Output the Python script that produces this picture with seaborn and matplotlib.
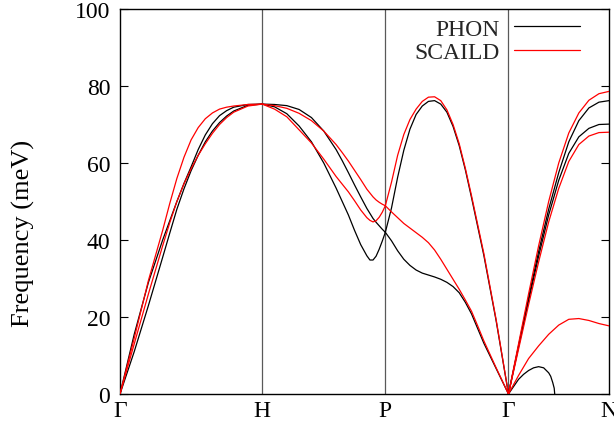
import numpy as np
import pandas as pd
import matplotlib
matplotlib.use("Agg")
import matplotlib.pyplot as plt
import seaborn as sns
from matplotlib.lines import Line2D

# ---------------- data ----------------
kpoint_labels = ["Γ", "H", "P", "Γ", "N"]
kpoint_pos = [0.0, 1.0, 1.866, 2.732, 3.439]   # path distance (2π/a units)
methods = ["PHON", "SCAILD"]
yticks = [0, 20, 40, 60, 80, 100]

# Γ-H
GH_t = [0, .1, .2, .3, .35, .4, .45, .5, .55, .6, .65, .7, .75, .8, .9, 1]
GH_phon_a = [0, 15.5, 29.0, 40.0, 45.0, 50.0, 54.7, 59.0, 63.5, 67.3, 70.2, 72.3, 73.6, 74.5, 75.2, 75.3]
GH_phon_b = [0, 11.0, 23.0, 35.5, 41.8, 48.0, 53.3, 58.0, 62.0, 65.5, 68.3, 70.5, 72.2, 73.5, 75.0, 75.3]
GH_scaild_a = [0, 14.5, 29.5, 42.5, 49.5, 56.0, 61.5, 66.0, 69.2, 71.5, 73.0, 74.0, 74.5, 74.8, 75.2, 75.3]
GH_scaild_b = [0, 13.0, 26.0, 38.5, 44.5, 50.0, 54.6, 58.5, 62.0, 65.0, 67.7, 70.0, 71.8, 73.2, 74.8, 75.3]

# H-P
HP_t = [0, .1, .2, .3, .4, .5, .6, .65, .7, .75, .8, .85, .875, .9, .925, .95, .975, 1]
HP_phon_upper = [75.3, 75.2, 74.9, 73.9, 71.8, 68.3, 63.5, 60.6, 57.5, 54.3, 51.2, 48.2, 46.9, 45.6, 44.6, 43.7, 42.8, 42.0]
HP_phon_lower = [75.3, 74.6, 72.8, 69.6, 65.5, 60.0, 53.5, 50.0, 46.5, 42.5, 38.8, 35.9, 34.8, 34.8, 35.8, 37.6, 39.7, 42.0]
HP_scaild_upper = [75.3, 74.9, 74.2, 72.9, 71.0, 68.3, 64.8, 62.7, 60.5, 58.1, 55.7, 53.2, 52.2, 51.2, 50.4, 49.8, 49.3, 48.9]
HP_scaild_lower = [75.3, 74.0, 72.0, 68.6, 65.2, 61.0, 56.5, 54.5, 52.5, 50.2, 47.8, 45.8, 45.1, 44.7, 45.0, 45.9, 47.2, 48.9]

# P-Γ
PG_t = [0, .05, .1, .15, .2, .25, .3, .35, .4, .45, .5, .55, .6, .65, .7, .75, .8, .85, .9, .95, 1]
PG_phon_hump = [42.0, 48.3, 56.3, 63.3, 68.8, 72.6, 74.8, 76.0, 76.2, 75.3, 73.2, 69.5, 64.5, 58.2, 51.0, 43.5, 36.0, 27.5, 19.0, 9.5, 0]
PG_scaild_hump = [48.9, 55.0, 62.0, 67.4, 71.3, 74.0, 76.0, 77.1, 77.2, 76.2, 73.8, 70.0, 65.0, 58.6, 51.5, 44.0, 36.5, 27.9, 19.3, 9.7, 0]
PG_phon_lower = [42.0, 39.8, 37.2, 35.0, 33.4, 32.2, 31.4, 30.9, 30.4, 29.8, 29.0, 27.9, 26.3, 23.8, 20.8, 17.0, 13.2, 9.9, 6.6, 3.3, 0]
PG_scaild_lower = [48.9, 47.3, 45.8, 44.3, 43.1, 41.9, 40.7, 39.3, 37.4, 35.0, 32.4, 29.8, 27.2, 24.4, 21.5, 17.7, 13.8, 10.3, 6.8, 3.4, 0]

# Γ-N
GN_t = [0, .1, .2, .3, .4, .5, .6, .7, .8, .9, 1]
GN_phon_a = [0, 12.5, 25.0, 37.0, 48.0, 57.5, 65.5, 71.0, 74.3, 75.8, 76.2]
GN_phon_b = [0, 12.2, 24.2, 35.8, 46.5, 55.5, 62.5, 66.8, 69.0, 70.0, 70.1]
GN_scaild_a = [0, 13.0, 26.0, 38.5, 50.0, 60.0, 67.8, 73.0, 76.3, 78.0, 78.6]
GN_scaild_b = [0, 11.6, 23.2, 34.3, 44.7, 53.4, 60.4, 64.8, 67.0, 67.9, 68.0]
GN_scaild_low = [0, 4.8, 9.2, 12.5, 15.5, 17.9, 19.4, 19.6, 19.1, 18.3, 17.7]
GN_low_t = [0, .05, .1, .15, .2, .25, .3, .35, .4, .42, .44, .455, .46]
GN_phon_low = [0, 1.9, 3.8, 5.1, 6.1, 6.8, 7.1, 6.8, 5.5, 4.6, 3.0, 1.5, 0]

# (segment index, t, values, method)
branches = [
    (0, GH_t, GH_phon_a, "PHON"), (0, GH_t, GH_phon_b, "PHON"),
    (0, GH_t, GH_scaild_a, "SCAILD"), (0, GH_t, GH_scaild_b, "SCAILD"),
    (1, HP_t, HP_phon_upper, "PHON"), (1, HP_t, HP_phon_lower, "PHON"),
    (1, HP_t, HP_scaild_upper, "SCAILD"), (1, HP_t, HP_scaild_lower, "SCAILD"),
    (2, PG_t, PG_phon_hump, "PHON"), (2, PG_t, PG_phon_lower, "PHON"),
    (2, PG_t, PG_scaild_hump, "SCAILD"), (2, PG_t, PG_scaild_lower, "SCAILD"),
    (3, GN_t, GN_phon_a, "PHON"), (3, GN_t, GN_phon_b, "PHON"),
    (3, GN_low_t, GN_phon_low, "PHON"),
    (3, GN_t, GN_scaild_a, "SCAILD"), (3, GN_t, GN_scaild_b, "SCAILD"),
    (3, GN_t, GN_scaild_low, "SCAILD"),
]

rows = []
for bi, (seg, ts, vals, m) in enumerate(branches):
    x0, x1 = kpoint_pos[seg], kpoint_pos[seg + 1]
    for t, v in zip(ts, vals):
        rows.append({"k": x0 + t * (x1 - x0), "freq": v, "method": m, "branch": bi})
df = pd.DataFrame(rows)

# ---------------- plot ----------------
sns.set_theme(style="ticks")
plt.rcParams["font.family"] = ["Liberation Serif", "DejaVu Serif"]
plt.rcParams["font.size"] = 17

fig = plt.figure(figsize=(6.14, 4.27), dpi=100)
ax = fig.add_axes([120 / 614, 1 - 395 / 427, 489 / 614, 385 / 427])

palette = {"PHON": "black", "SCAILD": "red"}
for xv in kpoint_pos[1:-1]:
    ax.axvline(xv, color="0.35", lw=0.9, zorder=1)

sns.lineplot(data=df, x="k", y="freq", hue="method", hue_order=methods,
             units="branch", estimator=None, sort=False, palette=palette,
             lw=0.9, ax=ax, legend=False, zorder=3)

ax.set_xlim(kpoint_pos[0], kpoint_pos[-1])
ax.set_ylim(0, 100)
ax.set_xticks(kpoint_pos)
ax.set_xticklabels(kpoint_labels)
ax.set_yticks(yticks)
ax.tick_params(axis="x", length=0, pad=4, labelsize=17, colors="black")
ax.tick_params(axis="y", direction="in", length=6, width=0.8, right=True,
               pad=7, labelsize=17, colors="black")
for s in ax.spines.values():
    s.set_color("black")
    s.set_linewidth(1.0)
    s.set_visible(True)

ax.set_xlabel("")
ax.set_ylabel("Frequency (meV)", fontsize=19, color="black")
ax.yaxis.label.set_va("center")
ax.yaxis.label.set_ha("center")
ax.yaxis.set_label_coords((23 - 120) / 489, (395 - 233) / 385)

handles = [Line2D([], [], color=palette[m], lw=0.9) for m in methods]
ax.legend(handles, methods, loc="upper right",
          bbox_to_anchor=((580 - 120) / 489, (395 - 19) / 385),
          frameon=False, markerfirst=False, handlelength=2.8,
          handletextpad=0.6, labelspacing=0.1, borderpad=0,
          borderaxespad=0, fontsize=17)

fig.savefig("out.png", dpi=100)
